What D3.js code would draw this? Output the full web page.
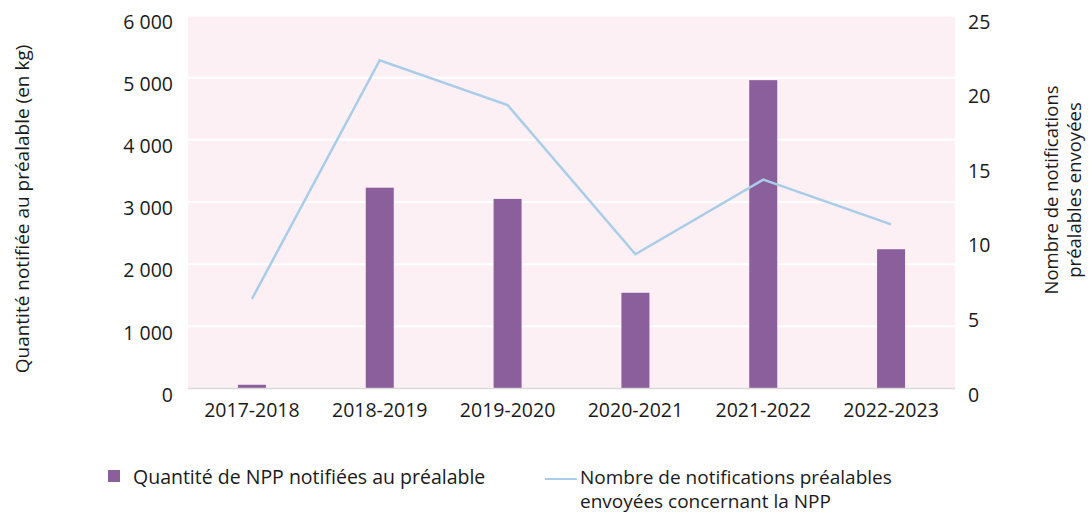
<!DOCTYPE html>
<html>
<head>
<meta charset="utf-8">
<script src="https://cdn.jsdelivr.net/npm/d3@7"></script>
<style>
  body { margin: 0; background: #fff; }
  svg text { font-family: "Open Sans", "Noto Sans", sans-serif; fill: #1a1a1a; }
</style>
</head>
<body>
<div id="chart"></div>
<script>
// Data
const seasons = ["2017-2018", "2018-2019", "2019-2020", "2020-2021", "2021-2022", "2022-2023"];
const quantityKg = [60, 3230, 3050, 1540, 4960, 2240];
const notifications = [6, 22, 19, 9, 14, 11];
const leftTicks = [0, 1000, 2000, 3000, 4000, 5000, 6000];
const rightTicks = [0, 5, 10, 15, 20, 25];

const width = 1089, height = 513;
const margin = { left: 188, right: 134, top: 15.5, bottom: 124.5 };
const plotW = width - margin.left - margin.right;
const plotH = height - margin.top - margin.bottom;

const barColor = "#8b5f9b";
const lineColor = "#a9cde8";
const fmt = (v) => d3.format(",")(v).replace(/,/g, " ");

const svg = d3.select("#chart").append("svg")
  .attr("width", width)
  .attr("height", height);

const g = svg.append("g").attr("transform", `translate(${margin.left},${margin.top})`);

const x = d3.scaleBand().domain(seasons).range([0, plotW]);
const yL = d3.scaleLinear().domain([0, 6000]).range([plotH, 0]);
const yR = d3.scaleLinear().domain([0, 25]).range([plotH, 0]);

// plot background
g.append("rect")
  .attr("width", plotW)
  .attr("height", plotH)
  .attr("fill", "#fcf0f4");

// gridlines
g.selectAll(".grid")
  .data(leftTicks.filter((d) => d > 0))
  .enter()
  .append("line")
  .attr("x1", 0)
  .attr("x2", plotW)
  .attr("y1", (d) => yL(d))
  .attr("y2", (d) => yL(d))
  .attr("stroke", "#fff")
  .attr("stroke-width", 2);

// bars
const barW = 28;
g.selectAll(".bar")
  .data(quantityKg)
  .enter()
  .append("rect")
  .attr("x", (d, i) => x(seasons[i]) + x.bandwidth() / 2 - barW / 2)
  .attr("y", (d) => yL(d))
  .attr("width", barW)
  .attr("height", (d) => plotH - yL(d))
  .attr("fill", barColor);

// baseline
g.append("line")
  .attr("x1", 0)
  .attr("x2", plotW)
  .attr("y1", plotH)
  .attr("y2", plotH)
  .attr("stroke", "#d9d9d9")
  .attr("stroke-width", 1.5);

// line
const line = d3.line()
  .x((d, i) => x(seasons[i]) + x.bandwidth() / 2)
  .y((d) => yR(d));

g.append("path")
  .datum(notifications)
  .attr("d", line)
  .attr("fill", "none")
  .attr("stroke", lineColor)
  .attr("stroke-width", 2.5);

// left axis
const axL = g.append("g")
  .call(d3.axisLeft(yL).tickValues(leftTicks).tickFormat(fmt).tickSize(0).tickPadding(15));
axL.select(".domain").remove();
axL.selectAll("text").style("font-size", "19.5px").attr("dy", "0.65em");

// right axis
const axR = g.append("g")
  .attr("transform", `translate(${plotW},0)`)
  .call(d3.axisRight(yR).tickValues(rightTicks).tickSize(0).tickPadding(13));
axR.select(".domain").remove();
axR.selectAll("text").style("font-size", "19.5px").attr("dy", "0.65em");

// x axis
const axX = g.append("g")
  .attr("transform", `translate(0,${plotH})`)
  .call(d3.axisBottom(x).tickSize(0).tickPadding(15));
axX.select(".domain").remove();
axX.selectAll("text").style("font-size", "19.5px");

// axis titles
svg.append("text")
  .attr("transform", `translate(29,${margin.top + plotH / 2 + 7}) rotate(-90)`)
  .attr("text-anchor", "middle")
  .style("font-size", "19px")
  .text("Quantité notifiée au préalable (en kg)");

const rt = svg.append("text")
  .attr("transform", `translate(1058,${margin.top + plotH / 2 - 12}) rotate(-90)`)
  .attr("text-anchor", "middle")
  .style("font-size", "18.5px");
rt.append("tspan").attr("x", 0).attr("dy", 0).text("Nombre de notifications");
rt.append("tspan").attr("x", 0).attr("dy", "1.25em").text("préalables envoyées");

// legend
const leg = svg.append("g");
leg.append("rect")
  .attr("x", 108)
  .attr("y", 470)
  .attr("width", 12)
  .attr("height", 12)
  .attr("fill", barColor);
leg.append("text")
  .attr("x", 133)
  .attr("y", 484)
  .style("font-size", "19.5px")
  .text("Quantité de NPP notifiées au préalable");

leg.append("line")
  .attr("x1", 545)
  .attr("x2", 577)
  .attr("y1", 479)
  .attr("y2", 479)
  .attr("stroke", lineColor)
  .attr("stroke-width", 2);
const lineLegend = ["Nombre de notifications préalables", "envoyées concernant la NPP"];
leg.selectAll(".leg-line-text")
  .data(lineLegend)
  .enter()
  .append("text")
  .attr("x", 580)
  .attr("y", (d, i) => 484 + i * 24)
  .style("font-size", "19px")
  .text((d) => d);
</script>
</body>
</html>
